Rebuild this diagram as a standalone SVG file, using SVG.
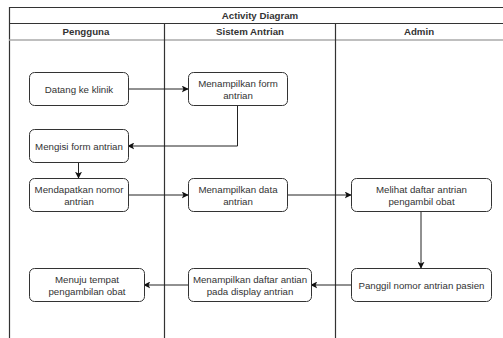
<svg xmlns="http://www.w3.org/2000/svg" width="503" height="338" viewBox="0 0 503 338">
<style>
.frame{fill:none;stroke:#333;stroke-width:1.2}
.sep{stroke:#aaa;stroke-width:1.6}
.node rect{fill:#fff;stroke:#333;stroke-width:1}
.node text,.lbl{font-family:"Liberation Sans",Arial,sans-serif;font-size:9.7px;fill:#333;text-anchor:middle}
.hdr{font-family:"Liberation Sans",Arial,sans-serif;font-size:9.7px;font-weight:bold;fill:#333;text-anchor:middle}
.edge{fill:none;stroke:#222;stroke-width:1;marker-end:url(#arr)}
</style>
<defs>
<marker id="arr" viewBox="0 0 10 10" refX="9" refY="5" markerWidth="7" markerHeight="7" markerUnits="userSpaceOnUse" orient="auto">
<path d="M0,0 L10,5 L0,10 L2.5,5 Z" fill="#111"/>
</marker>
</defs>
<rect width="503" height="338" fill="#fff"/>
<g id="pool">
<line class="frame" x1="9" y1="7.5" x2="503" y2="7.5"/>
<line class="frame" x1="9.5" y1="7" x2="9.5" y2="338"/>
<line class="frame" x1="9" y1="23.5" x2="503" y2="23.5"/>
<line class="sep" x1="9" y1="40" x2="503" y2="40"/>
<line class="frame" x1="164.5" y1="23" x2="164.5" y2="338"/>
<line class="frame" x1="335.5" y1="23" x2="335.5" y2="338"/>
<text class="hdr" x="260" y="19">Activity Diagram</text>
<text class="hdr" x="86" y="35">Pengguna</text>
<text class="hdr" x="250" y="35">Sistem Antrian</text>
<text class="hdr" x="419" y="35">Admin</text>
</g>
<g id="connectors">
<path class="edge" d="M128,89 H188"/>
<path class="edge" d="M237.5,105 V146 H128"/>
<path class="edge" d="M78.5,162 V178"/>
<path class="edge" d="M128,195 H188"/>
<path class="edge" d="M287,195 H351"/>
<path class="edge" d="M421,212 V268"/>
<path class="edge" d="M351,285 H311"/>
<path class="edge" d="M188,285 H144"/>
</g>
<g id="n1" class="node"><rect x="29.5" y="72.5" width="99" height="33" rx="5"/><text x="79" y="92.5">Datang ke klinik</text></g>
<g id="n2" class="node"><rect x="188.5" y="72.5" width="99" height="33" rx="5"/><text x="238" y="86.5">Menampilkan form</text><text x="238" y="98.5">antrian</text></g>
<g id="n3" class="node"><rect x="29.5" y="129.5" width="99" height="33" rx="5"/><text x="79" y="149.5">Mengisi form antrian</text></g>
<g id="n4" class="node"><rect x="29.5" y="178.5" width="99" height="33" rx="5"/><text x="79" y="192.5">Mendapatkan nomor</text><text x="79" y="204.5">antrian</text></g>
<g id="n5" class="node"><rect x="188.5" y="178.5" width="99" height="33" rx="5"/><text x="238" y="192.5">Menampilkan data</text><text x="238" y="204.5">antrian</text></g>
<g id="n6" class="node"><rect x="351.5" y="178.5" width="140" height="33" rx="5"/><text x="421.5" y="192.5">Melihat daftar antrian</text><text x="421.5" y="204.5">pengambil obat</text></g>
<g id="n7" class="node"><rect x="351.5" y="268.5" width="140" height="33" rx="5"/><text x="421.5" y="288.5">Panggil nomor antrian pasien</text></g>
<g id="n8" class="node"><rect x="188.5" y="268.5" width="123" height="33" rx="5"/><text x="250" y="282.5">Menampilkan daftar antian</text><text x="250" y="294.5">pada display antrian</text></g>
<g id="n9" class="node"><rect x="29.5" y="268.5" width="115" height="33" rx="5"/><text x="87" y="282.5">Menuju tempat</text><text x="87" y="294.5">pengambilan obat</text></g>
</svg>
